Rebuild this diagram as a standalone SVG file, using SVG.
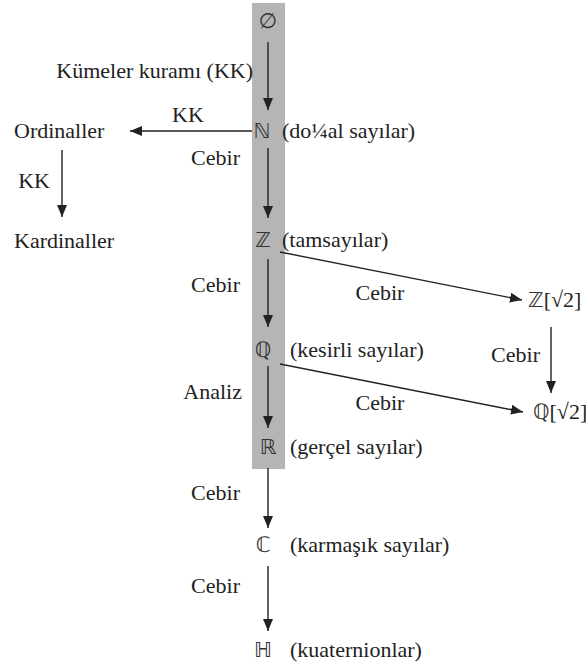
<svg xmlns="http://www.w3.org/2000/svg" width="586" height="667" viewBox="0 0 586 667" font-family="Liberation Serif, serif" font-size="22">
  <style>
    .lbl { fill: #222; }
    .sym { font-family: "DejaVu Sans", sans-serif; font-size: 21px; fill: #333; }
    .edge { stroke: #222; stroke-width: 1.4; fill: none; marker-end: url(#arr); }
  </style>
  <defs>
    <marker id="arr" viewBox="0 0 12 10" refX="12" refY="5" markerWidth="12" markerHeight="10" markerUnits="userSpaceOnUse" orient="auto">
      <path d="M0,0 L12,5 L0,10 z" fill="#222"/>
    </marker>
  </defs>
  <rect width="586" height="667" fill="#fff"/>

  <!-- shaded spine: from the empty set to the reals -->
  <rect id="spine" x="252" y="3" width="33" height="466" fill="#b5b5b5"/>

  <g id="connectors">
    <line class="edge" x1="268" y1="42" x2="268" y2="110"/>
    <line class="edge" x1="252" y1="131" x2="130" y2="131"/>
    <line class="edge" x1="62" y1="150" x2="62" y2="217"/>
    <line class="edge" x1="268" y1="148" x2="268" y2="218"/>
    <line class="edge" x1="268" y1="259" x2="268" y2="327"/>
    <line class="edge" x1="280" y1="252" x2="522" y2="300"/>
    <line class="edge" x1="551" y1="327" x2="551" y2="393"/>
    <line class="edge" x1="268" y1="366" x2="268" y2="428"/>
    <line class="edge" x1="280" y1="364" x2="523" y2="412"/>
    <line class="edge" x1="268" y1="468" x2="268" y2="528"/>
    <line class="edge" x1="268" y1="566" x2="268" y2="631"/>
  </g>

  <g id="edge-labels" class="lbl">
    <text x="253" y="78" text-anchor="end">Kümeler kuramı (KK)</text>
    <text x="188" y="122" text-anchor="middle">KK</text>
    <text x="50" y="188" text-anchor="end">KK</text>
    <text x="240" y="165" text-anchor="end">Cebir</text>
    <text x="240" y="292" text-anchor="end">Cebir</text>
    <text x="380" y="300" text-anchor="middle">Cebir</text>
    <text x="540" y="362" text-anchor="end">Cebir</text>
    <text x="242" y="399" text-anchor="end">Analiz</text>
    <text x="380" y="410" text-anchor="middle">Cebir</text>
    <text x="240" y="500" text-anchor="end">Cebir</text>
    <text x="240" y="593" text-anchor="end">Cebir</text>
  </g>

  <g id="empty-set"><text class="sym" x="268" y="28" text-anchor="middle">∅</text></g>
  <g id="naturals" class="lbl"><text class="sym" x="262" y="138" text-anchor="middle">ℕ</text><text x="282" y="138">(do¼al sayılar)</text></g>
  <g id="ordinals" class="lbl"><text x="14" y="138">Ordinaller</text></g>
  <g id="cardinals" class="lbl"><text x="14" y="248">Kardinaller</text></g>
  <g id="integers" class="lbl"><text class="sym" x="263" y="247" text-anchor="middle">ℤ</text><text x="282" y="247">(tamsayılar)</text></g>
  <g id="z-sqrt2" class="lbl"><text x="528" y="307"><tspan class="sym">ℤ</tspan>[√2]</text></g>
  <g id="rationals" class="lbl"><text class="sym" x="263" y="357" text-anchor="middle">ℚ</text><text x="290" y="357">(kesirli sayılar)</text></g>
  <g id="q-sqrt2" class="lbl"><text x="533" y="419"><tspan class="sym">ℚ</tspan>[√2]</text></g>
  <g id="reals" class="lbl"><text class="sym" x="268" y="454" text-anchor="middle">ℝ</text><text x="290" y="454">(gerçel sayılar)</text></g>
  <g id="complex" class="lbl"><text class="sym" x="263" y="552" text-anchor="middle">ℂ</text><text x="290" y="552">(karmaşık sayılar)</text></g>
  <g id="quaternions" class="lbl"><text class="sym" x="263" y="657" text-anchor="middle">ℍ</text><text x="290" y="657">(kuaternionlar)</text></g>
</svg>
